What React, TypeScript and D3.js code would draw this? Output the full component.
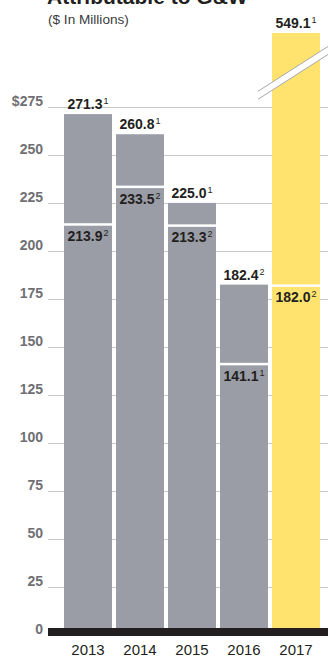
import React from "react";
import * as d3 from "d3";

// Net income per year: total (top of bar) and the second measure (segment split)
const years = ["2013", "2014", "2015", "2016", "2017"];
const topValues = [271.3, 260.8, 225.0, 182.4, 549.1];
const topNotes = ["1", "1", "1", "2", "1"];
const splitValues = [213.9, 233.5, 213.3, 141.1, 182.0];
const splitNotes = ["2", "2", "2", "1", "2"];
const highlightYear = "2017";
const yTicks = [0, 25, 50, 75, 100, 125, 150, 175, 200, 225, 250, 275];

const W = 328;
const H = 656;
// bars taller than this are cut with an axis break
const BREAK_CAP = 313.6;

const GRAY = "#9a9da5";
const YELLOW = "#ffe36e";
const INK = "#231f20";
const FONT = "'Liberation Sans', Arial, sans-serif";

export default function App() {
  const x = d3
    .scaleBand<string>()
    .domain(years)
    .range([62, 322])
    .paddingInner(4 / 52)
    .paddingOuter(2 / 52);
  const y = d3.scaleLinear().domain([0, 275]).range([634.5, 107]);
  const bw = x.bandwidth();
  const crisp = (v: number) => Math.round(v) + 0.5;

  return (
    <div style={{ position: "absolute", left: 0, top: 0 }}>
      <svg width={W} height={H} style={{ display: "block" }}>
        <rect width={W} height={H} fill="#fff" />
        {/* title, partly above the visible area */}
        <text x={47} y={4} fontFamily={FONT} fontWeight="bold" fontSize={21} fill={INK}>
          Attributable to G&amp;W
        </text>
        <text x={48} y={24} fontFamily={FONT} fontSize={13.6} fill="#3a3a3c">
          ($ In Millions)
        </text>

        {/* gridlines and value axis */}
        {yTicks.map((t) => (
          <g key={t}>
            {t > 0 && (
              <line x1={48} x2={W} y1={crisp(y(t))} y2={crisp(y(t))} stroke="#c9c9c9" strokeWidth={1} />
            )}
            <text
              x={43}
              y={y(t) - 1}
              textAnchor="end"
              fontFamily={FONT}
              fontWeight="bold"
              fontSize={14}
              fill="#6f7073"
            >
              {t === 275 ? "$275" : t}
            </text>
          </g>
        ))}

        {/* bars */}
        {years.map((yr, i) => {
          const bx = x(yr)!;
          const fill = yr === highlightYear ? YELLOW : GRAY;
          const topV = Math.min(topValues[i], BREAK_CAP);
          const yTop = y(topV);
          const ySplit = y(splitValues[i]);
          const broken = topValues[i] > BREAK_CAP;
          const cx = bx + bw / 2;
          const slope = -0.64;
          const up = yTop + 34;
          const lo = yTop + 42;
          const x0 = bx - 14;
          const x1 = W + 2;
          const lineY = (base: number, xx: number) => base + slope * (xx - cx);
          return (
            <g key={yr}>
              <rect x={bx} y={yTop} width={bw} height={y(0) - yTop} fill={fill} />
              <rect x={bx} y={ySplit - 1} width={bw} height={2.5} fill="#fff" />
              {broken && (
                <g>
                  <polygon
                    points={[
                      [x0, lineY(up, x0)],
                      [x1, lineY(up, x1)],
                      [x1, lineY(lo, x1)],
                      [x0, lineY(lo, x0)],
                    ]
                      .map((p) => p.join(","))
                      .join(" ")}
                    fill="#fff"
                  />
                  <line x1={x0} y1={lineY(up, x0)} x2={x1} y2={lineY(up, x1)} stroke="#a9a9ab" strokeWidth={1} />
                  <line x1={x0} y1={lineY(lo, x0)} x2={x1} y2={lineY(lo, x1)} stroke="#a9a9ab" strokeWidth={1} />
                </g>
              )}
              <text
                x={cx}
                y={yTop - 5}
                textAnchor="middle"
                fontFamily={FONT}
                fontWeight="bold"
                fontSize={14}
                fill={INK}
              >
                {topValues[i].toFixed(1)}
                <tspan fontSize={9} fontWeight="normal" dx={1} dy={-5}>
                  {topNotes[i]}
                </tspan>
              </text>
              <text
                x={cx}
                y={ySplit + 17}
                textAnchor="middle"
                fontFamily={FONT}
                fontWeight="bold"
                fontSize={14}
                fill={INK}
              >
                {splitValues[i].toFixed(1)}
                <tspan fontSize={9} fontWeight="normal" dx={1} dy={-5}>
                  {splitNotes[i]}
                </tspan>
              </text>
              <text x={cx} y={655} textAnchor="middle" fontFamily={FONT} fontSize={15} fill={INK}>
                {yr}
              </text>
            </g>
          );
        })}

        {/* baseline */}
        <rect x={48} y={628} width={W - 48} height={8} fill={INK} />
      </svg>
    </div>
  );
}
